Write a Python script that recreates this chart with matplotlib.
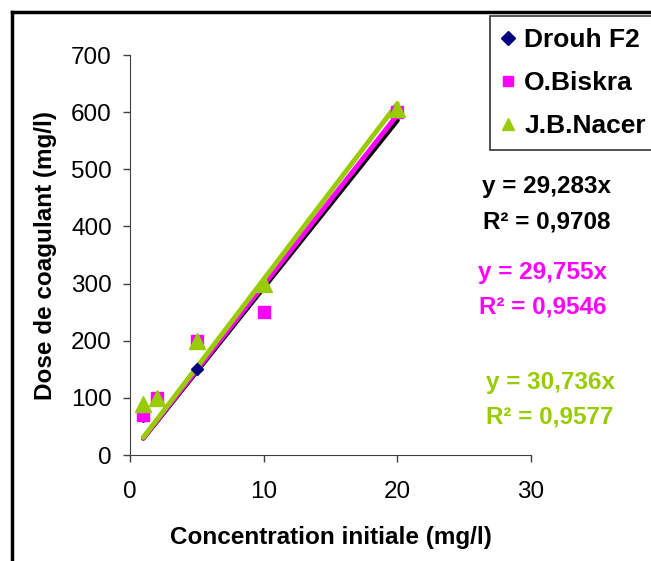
import matplotlib as mpl
mpl.use('Agg')
import matplotlib.pyplot as plt
import numpy as np
from matplotlib.lines import Line2D

plt.rcParams['font.family'] = ['Liberation Sans', 'DejaVu Sans']

# data
conc = [1, 2, 5, 10, 20]
drouh = [68, 100, 150, 250, 600]
biskra = [70, 100, 200, 250, 600]
nacer = [90, 100, 200, 300, 605]

series_names = ['Drouh F2', 'O.Biskra', 'J.B.Nacer']
slopes = [29.283, 29.755, 30.736]
r2 = ['0,9708', '0,9546', '0,9577']
slope_txt = ['29,283', '29,755', '30,736']

marker_colors = ['#000080', '#FF00FF', '#99CC00']
line_colors = ['#000000', '#FF00FF', '#99CC00']
text_colors = ['#000000', '#FF00FF', '#99CC00']
markers = ['D', 's', '^']
msizes = [6, 8, 11]

fig = plt.figure(figsize=(6.51, 5.61), dpi=100)
ax = fig.add_axes([130 / 651, 1 - 455 / 561, 401 / 651, 400 / 561])

# trend lines through origin
xl = np.array([1, 20])
for k in range(3):
    ax.plot(xl, slopes[k] * xl, color=line_colors[k], lw=3.5,
            solid_capstyle='round', zorder=2 + k)

all_y = [drouh, biskra, nacer]
for k in range(3):
    ax.plot(conc, all_y[k], linestyle='none', marker=markers[k],
            color=marker_colors[k], markersize=msizes[k], zorder=5 + k)

ax.set_xlim(0, 30)
ax.set_ylim(0, 700)
ax.set_xticks([0, 10, 20, 30])
ax.set_yticks(range(0, 701, 100))
ax.tick_params(labelsize=17.5, length=5, width=1, color='#404040')
ax.tick_params(axis='y', pad=8)
ax.tick_params(axis='x', pad=14)
ax.spines['top'].set_visible(False)
ax.spines['right'].set_visible(False)
ax.spines['left'].set_color('#404040')
ax.spines['bottom'].set_color('#404040')
ax.set_xlabel('Concentration initiale (mg/l)', fontsize=17.5, fontweight='bold', labelpad=16)
ax.set_ylabel('Dose de coagulant (mg/l)', fontsize=17.5, fontweight='bold', labelpad=10)

# equations
eq_pos = [(547, 187, 222), (543, 272, 307), (550, 382, 417)]
for k in range(3):
    x, y1, y2 = eq_pos[k]
    fig.text(x / 651, 1 - y1 / 561, 'y = ' + slope_txt[k] + 'x', color=text_colors[k],
             fontsize=17.5, fontweight='bold', ha='center', va='center')
    fig.text(x / 651, 1 - y2 / 561, 'R\u00b2 = ' + r2[k], color=text_colors[k],
             fontsize=17.5, fontweight='bold', ha='center', va='center')

# legend
handles = [Line2D([], [], linestyle='none', marker=markers[k], color=marker_colors[k],
                  markersize=[7, 7, 9][k]) for k in range(3)]
leg = fig.legend(handles, series_names, loc='upper left',
                 bbox_to_anchor=(490 / 651, 1 - 16 / 561), frameon=True,
                 fancybox=False, edgecolor='black', prop={'size': 19, 'weight': 'bold'},
                 handlelength=0.5, handletextpad=0.35, labelspacing=0.72,
                 borderpad=0.45, borderaxespad=0)
leg.get_frame().set_linewidth(1.2)

# outer chart frame (left and top edges)
fig.add_artist(Line2D([12 / 651, 12 / 651], [0, 1 - 12 / 561], color='black', lw=2.5))
fig.add_artist(Line2D([12 / 651, 1], [1 - 12 / 561, 1 - 12 / 561], color='black', lw=2.5))

fig.savefig('out.png', dpi=100)
